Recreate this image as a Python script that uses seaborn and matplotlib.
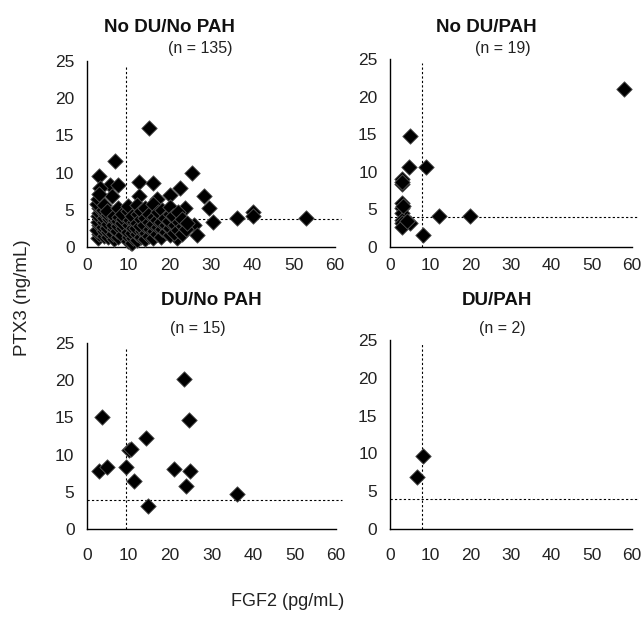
import numpy
import pandas
import seaborn
import matplotlib
matplotlib.use('Agg')
import matplotlib.pyplot as plt

seaborn.set_style('white')
plt.rcParams['font.family'] = ['Liberation Sans', 'DejaVu Sans']

# FGF2 (pg/mL) / PTX3 (ng/mL) per group
no_du_no_pah_x = [
    14.9, 6.7, 3.0, 25.4, 12.5, 15.9, 5.6, 7.6, 3.2, 22.5, 20.1, 12.5, 28.3, 6.0,
    16.9, 29.4, 23.7, 30.6, 36.2, 40.1, 40.1, 53.0, 25.8, 26.6, 10.7, 17.7, 21.7,
    2.6, 2.8, 2.5, 2.9, 2.7, 2.6, 3.0, 2.8, 2.5, 2.7, 2.9,
    4.0, 4.2, 3.9, 4.1, 4.0, 4.3, 3.8, 4.1,
    5.0, 5.2, 4.9, 5.1, 5.3, 5.0, 4.8,
    6.5, 6.3, 6.6, 6.4, 6.7, 6.5,
    7.5, 7.3, 7.6, 7.4, 7.7, 7.5,
    8.5, 8.6, 8.4, 8.7, 8.5,
    10.0, 10.2, 9.9, 10.1, 10.3, 10.0, 9.8,
    11.0, 11.2, 10.9, 11.1, 11.3, 11.0,
    12.0, 12.2, 11.9, 12.1, 12.3, 12.0,
    13.0, 13.2, 12.9, 13.1, 13.0,
    14.0, 14.2, 13.9, 14.1, 14.0,
    15.0, 15.2, 14.9, 15.1,
    16.0, 16.2, 15.9, 16.1, 16.0,
    17.0, 17.2, 16.9, 17.1,
    18.0, 18.2, 17.9, 18.1,
    19.0, 19.2, 18.9,
    20.0, 20.2, 19.9, 20.1, 20.0,
    21.0, 21.2, 20.9,
    22.0, 22.2, 21.9,
    23.0, 23.2, 22.9,
    24.0, 24.2,
]
no_du_no_pah_y = [
    16.0, 11.6, 9.5, 9.9, 8.8, 8.6, 8.3, 8.3, 7.9, 7.9, 7.0, 6.9, 6.9, 6.8,
    6.4, 5.2, 5.2, 3.3, 3.9, 4.65, 4.1, 3.9, 3.0, 1.65, 0.5, 1.7, 1.2,
    1.2, 1.8, 2.3, 2.9, 3.4, 4.1, 4.6, 5.2, 5.8, 6.4, 7.1,
    1.5, 2.1, 2.7, 3.3, 3.9, 4.4, 5.0, 5.6,
    1.3, 2.0, 2.6, 3.1, 3.7, 4.3, 4.9,
    1.1, 1.7, 2.4, 3.0, 3.6, 4.2,
    1.4, 2.2, 2.8, 3.5, 4.0, 5.3,
    1.6, 2.5, 3.2, 3.8, 4.5,
    0.8, 1.4, 2.0, 2.9, 3.6, 4.8, 5.5,
    0.6, 1.2, 1.9, 2.6, 3.4, 4.1,
    1.0, 1.8, 2.5, 3.2, 4.4, 5.6,
    1.3, 2.1, 2.8, 3.7, 4.9,
    1.1, 1.9, 3.0, 3.9, 5.2,
    1.5, 2.4, 3.3, 4.5,
    1.2, 2.2, 3.1, 4.0, 5.8,
    1.8, 2.7, 3.6, 4.7,
    1.4, 2.4, 3.4, 5.0,
    2.0, 2.9, 3.9,
    1.6, 2.6, 3.5, 4.4, 5.4,
    1.9, 3.0, 4.1,
    2.3, 3.3, 4.7,
    1.8, 2.8, 3.7,
    2.4, 3.2,
]

no_du_pah_x = [57.9, 5.0, 4.6, 8.9, 2.9, 2.9, 2.9, 2.9, 2.9, 2.9, 2.9, 2.9,
               5.0, 4.1, 8.1, 12.2, 19.9, 2.9, 3.2]
no_du_pah_y = [21.0, 14.8, 10.6, 10.7, 9.0, 8.4, 5.8, 5.2, 4.5, 3.6, 3.2, 2.7,
               3.2, 3.4, 1.6, 4.1, 4.1, 8.7, 5.5]

du_no_pah_x = [3.6, 23.4, 24.5, 14.3, 10.0, 10.6, 9.4, 3.0, 4.7, 11.4, 20.9,
               24.9, 23.8, 36.1, 14.7]
du_no_pah_y = [15.0, 20.2, 14.7, 12.2, 10.6, 10.8, 8.4, 7.8, 8.3, 6.4, 8.0,
               7.8, 5.8, 4.7, 3.05]

du_pah_x = [6.6, 8.3]
du_pah_y = [6.9, 9.6]

titles = ['No DU/No PAH', 'No DU/PAH', 'DU/No PAH', 'DU/PAH']
n_labels = ['(n = 135)', '(n = 19)', '(n = 15)', '(n = 2)']
cut_x = [9.5, 8.0, 9.5, 8.0]
cut_y = [3.8, 4.0, 3.9, 4.0]

groups = [
    (no_du_no_pah_x, no_du_no_pah_y),
    (no_du_pah_x, no_du_pah_y),
    (du_no_pah_x, du_no_pah_y),
    (du_pah_x, du_pah_y),
]

W, H = 644, 619
fig = plt.figure(figsize=(W / 100, H / 100), dpi=100)

# axes boxes in pixels: left, right, top, bottom
boxes = [
    (87, 335, 61, 247),
    (390, 632, 59, 247),
    (87, 336, 343, 529),
    (390, 632, 340, 529),
]
title_pos = [(169, 27, 200, 49), (486, 27, 503, 49), (211, 300, 198, 328), (497, 300, 502, 328)]
x_pad = [5, 5, 11, 11]

for i, (gx, gy) in enumerate(groups):
    l, r, t, b = boxes[i]
    ax = fig.add_axes([l / W, 1 - b / H, (r - l) / W, (b - t) / H])
    df = pandas.DataFrame({'FGF2': gx, 'PTX3': gy})
    seaborn.scatterplot(data=df, x='FGF2', y='PTX3', ax=ax, marker='D', s=62,
                        color='black', edgecolor='#555555', linewidth=0.6,
                        clip_on=False, zorder=3)
    ax.plot([cut_x[i], cut_x[i]], [0, 24.5], color='black', ls=(0, (2, 2)),
            lw=0.8, clip_on=False)
    ax.plot([0, 61.5], [cut_y[i], cut_y[i]], color='black', ls=(0, (2, 2)),
            lw=0.8, clip_on=False)
    ax.set_xlim(0, 60)
    ax.set_ylim(0, 25)
    ax.set_xticks(range(0, 61, 10))
    ax.set_yticks(range(0, 26, 5))
    ax.set_xlabel('')
    ax.set_ylabel('')
    seaborn.despine(ax=ax, top=True, right=True)
    for s in ['left', 'bottom']:
        ax.spines[s].set_color('black')
        ax.spines[s].set_linewidth(1.0)
    ax.tick_params(axis='both', direction='out', length=3, width=0.8,
                   color='black', labelsize=12.5, labelcolor='#222222')
    ax.tick_params(axis='x', pad=x_pad[i])
    ax.tick_params(axis='y', pad=6)

    tx, ty, nx, ny = title_pos[i]
    fig.text(tx / W, 1 - ty / H, titles[i], ha='center', va='center',
             fontsize=13.5, fontweight='bold', color='#111111')
    fig.text(nx / W, 1 - ny / H, n_labels[i], ha='center', va='center',
             fontsize=11.5, color='#222222')

fig.text(23 / W, 1 - 298 / H, 'PTX3 (ng/mL)', rotation=90, ha='center',
         va='center', fontsize=13.5, color='#222222')
fig.text(288 / W, 1 - 601 / H, 'FGF2 (pg/mL)', ha='center', va='center',
         fontsize=13, color='#222222')

fig.savefig('out.png', dpi=100)
